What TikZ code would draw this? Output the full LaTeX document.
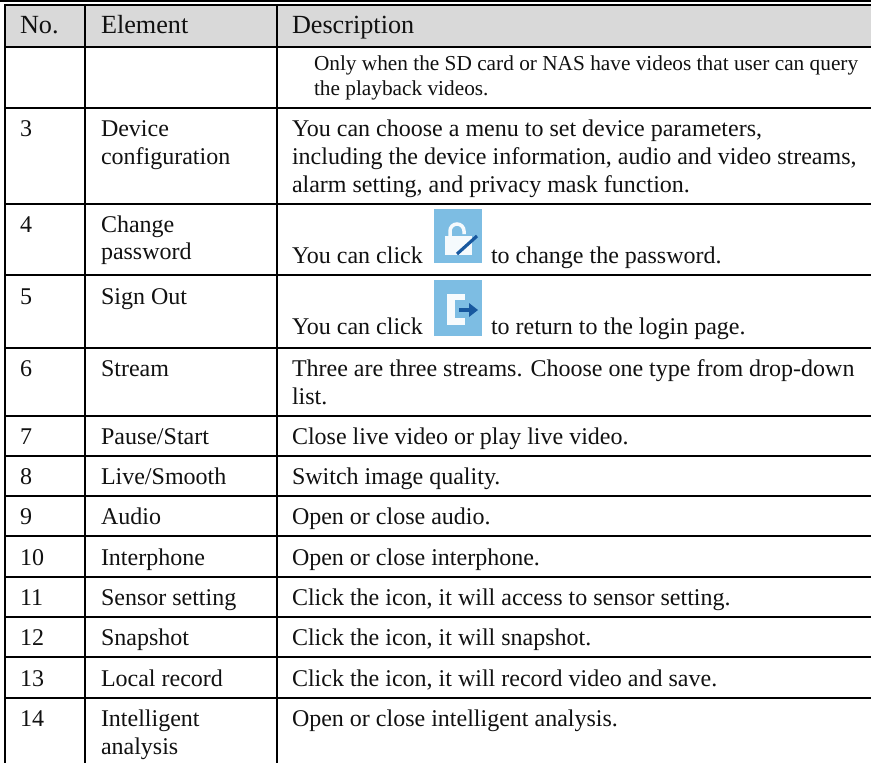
\documentclass[tikz,border=0pt]{standalone}
\usepackage{fontspec}
\setmainfont{Liberation Serif}
\definecolor{headgray}{HTML}{D9D9D9}
\definecolor{iconblue}{HTML}{7DBDE3}
\definecolor{icondark}{HTML}{17589F}
\definecolor{inktext}{HTML}{111111}
\tikzset{
  x=1pt,y=-1pt,
  cellbase/.style={anchor=base west,inner sep=0pt,outer sep=0pt,text=inktext},
  body/.style={cellbase,font=\fontsize{24}{26}\selectfont},
  head/.style={cellbase,font=\fontsize{26.2}{28}\selectfont},
  small/.style={cellbase,font=\fontsize{21.3}{24}\selectfont},
  rule/.style={line width=2pt,black},
  iconbox/.style={fill=iconblue,draw=none},
}
\begin{document}
\begin{tikzpicture}
\useasboundingbox (0,0) rectangle (871,763);
\fill[white] (0,0) rectangle (871,763);
\fill[headgray] (5,5) rectangle (871,47);
% horizontal rules
\draw[line width=2pt] (0,1) -- (871,1);
\foreach \yy in {5,47,107.5,203.5,275,348,415.5,455.7,495.7,536,576.7,616.7,656.7,697.7}
  \draw[rule] (4,\yy) -- (871,\yy);
% vertical rules
\foreach \xx in {5,85,277}
  \draw[rule] (\xx,4) -- (\xx,763);
% header
\node[head] (hno) at (20,33.5) {No.};
\node[head] (hel) at (101,33.5) {Element};
\node[head] (hde) at (292,33.5) {Description};
% row 2 continuation
\node[small] (c1) at (314,70) {Only when the SD card or NAS have videos that user can query};
\node[small] (c2) at (314,95.5) {the playback videos.};
% row 3
\node[body] (n3) at (20,136) {3};
\node[body] (e3a) at (101,136) {Device};
\node[body] (e3b) at (101,164) {configuration};
\node[body] (d3a) at (292,136) {You can choose a menu to set device parameters,};
\node[body] (d3b) at (292,164.5) {including the device information, audio and video streams,};
\node[body] (d3c) at (292,192) {alarm setting, and privacy mask function.};
% row 4
\node[body] (n4) at (20,232) {4};
\node[body] (e4a) at (101,232) {Change};
\node[body] (e4b) at (101,259.5) {password};
\node[body] (d4a) at (292,263) {You can click};
\node[body] (d4b) at (491,263) {to change the password.};
% row 5
\node[body] (n5) at (20,304) {5};
\node[body] (e5) at (101,304) {Sign Out};
\node[body] (d5a) at (292,334) {You can click};
\node[body] (d5b) at (491,334) {to return to the login page.};
% row 6
\node[body] (n6) at (20,376.5) {6};
\node[body] (e6) at (101,376.5) {Stream};
\node[body] (d6a) at (292,376.5) {Three are three streams. Choose one type from drop-down};
\node[body] (d6b) at (292,404) {list.};
% single-line rows
\node[body] (n7) at (20,444) {7};
\node[body] (e7) at (101,444) {Pause/Start};
\node[body] (d7) at (292,444) {Close live video or play live video.};
\node[body] (n8) at (20,484.5) {8};
\node[body] (e8) at (101,484.5) {Live/Smooth};
\node[body] (d8) at (292,484.5) {Switch image quality.};
\node[body] (n9) at (20,524.5) {9};
\node[body] (e9) at (101,524.5) {Audio};
\node[body] (d9) at (292,524.5) {Open or close audio.};
\node[body] (n10) at (20,565) {10};
\node[body] (e10) at (101,565) {Interphone};
\node[body] (d10) at (292,565) {Open or close interphone.};
\node[body] (n11) at (20,605) {11};
\node[body] (e11) at (101,605) {Sensor setting};
\node[body] (d11) at (292,605) {Click the icon, it will access to sensor setting.};
\node[body] (n12) at (20,645.5) {12};
\node[body] (e12) at (101,645.5) {Snapshot};
\node[body] (d12) at (292,645.5) {Click the icon, it will snapshot.};
\node[body] (n13) at (20,686) {13};
\node[body] (e13) at (101,686) {Local record};
\node[body] (d13) at (292,686) {Click the icon, it will record video and save.};
\node[body] (n14) at (20,726.5) {14};
\node[body] (e14a) at (101,726.5) {Intelligent};
\node[body] (e14b) at (101,754) {analysis};
\node[body] (d14) at (292,726.5) {Open or close intelligent analysis.};
% change-password icon
\fill[iconbox] (434,209) rectangle (482,263);
\draw[white!92!iconblue,line width=3.5pt] (450,237) -- (450,231) arc[start angle=180,end angle=360,radius=7] -- (464,234);
\fill[white!92!iconblue] (445,236) rectangle (472,255);
\draw[icondark,line width=3.2pt] (457,254) -- (477,236);
% sign-out icon
\fill[iconbox] (434,280) rectangle (482,336);
\fill[white!94!iconblue] (447,294) rectangle (465,325);
\fill[iconblue] (455,300) rectangle (467,318);
\fill[white!94!iconblue] (455,318) rectangle (465,325);
\draw[icondark,line width=4pt] (459,310) -- (470,310);
\fill[icondark] (469,303) -- (478,310) -- (469,317) -- cycle;
\end{tikzpicture}
\end{document}
